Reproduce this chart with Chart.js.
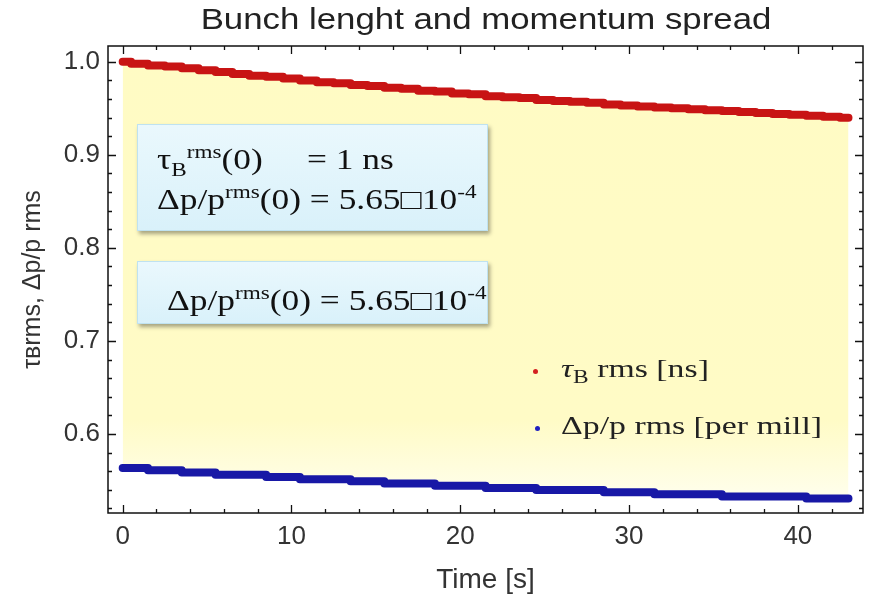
<!DOCTYPE html>
<html>
<head>
<meta charset="utf-8">
<script src="https://cdn.jsdelivr.net/npm/chart.js@4.4.1/dist/chart.umd.min.js"></script>
<style>
  html, body { margin: 0; padding: 0; background: #fff; }
  #wrap { position: relative; width: 869px; height: 600px; }
  canvas { position: absolute; left: 0; top: 0; }
  .box {
    position: absolute;
    background: linear-gradient(#eaf8fd, #d9f1fa);
    border: 1px solid #bfe2f0;
    box-shadow: 2px 3px 4px rgba(0,0,0,0.35);
    font-family: "Liberation Serif", "Times New Roman", serif;
    font-size: 29px;
    color: #111;
    line-height: 34px;
    white-space: nowrap;
  }
  .box div { transform: scaleX(1.22); transform-origin: 0 50%; }
  .leg { transform: scaleX(1.3); transform-origin: 0 50%; }
  .box sup { font-size: 19px; vertical-align: 11px; line-height: 0; }
  .box sub { font-size: 19px; vertical-align: -7px; line-height: 0; }
  .leg {
    position: absolute;
    font-family: "Liberation Serif", "Times New Roman", serif;
    font-size: 26px;
    line-height: 30px;
    color: #222;
    white-space: nowrap;
  }
  .leg sub { font-size: 18px; vertical-align: -6px; line-height: 0; }
  .dot { position: absolute; width: 5px; height: 5px; border-radius: 50%; }
</style>
</head>
<body>
<div id="wrap">
  <canvas id="bunchChart" width="869" height="600"></canvas>

  <div class="box" style="left:137px; top:124px; width:349px; height:105px;">
    <div style="position:absolute; left:19px; top:17px;">τ<sub>B</sub><sup>rms</sup>(0)</div>
    <div style="position:absolute; left:169px; top:17px;">= 1 ns</div>
    <div style="position:absolute; left:19px; top:57px;">Δp/p<sup>rms</sup>(0) = 5.65□10<sup>-4</sup></div>
  </div>

  <div class="box" style="left:137px; top:261px; width:349px; height:61px;">
    <div style="position:absolute; left:29px; top:21px;">Δp/p<sup>rms</sup>(0) = 5.65□10<sup>-4</sup></div>
  </div>

  <div class="dot" style="left:533px; top:369px; background:#d42020;"></div>
  <div class="leg" style="left:561px; top:354px;"><i>τ</i><sub>B</sub> rms [ns]</div>
  <div class="dot" style="left:535px; top:426px; background:#2020c0;"></div>
  <div class="leg" style="left:561px; top:411px;">Δp/p rms [per mill]</div>
</div>

<script>
// данные
const times = [0, 1, 2, 3, 4, 5, 6, 7, 8, 9, 10, 11, 12, 13, 14, 15, 16, 17, 18, 19, 20, 21,
  22, 23, 24, 25, 26, 27, 28, 29, 30, 31, 32, 33, 34, 35, 36, 37, 38, 39, 40, 41, 42, 43];

// τB rms [ns]
const bunchLength = [1.000, 0.998, 0.996, 0.995, 0.993, 0.991, 0.989, 0.987, 0.985, 0.984,
  0.982, 0.980, 0.978, 0.977, 0.975, 0.974, 0.972, 0.971, 0.969, 0.968, 0.966, 0.965,
  0.963, 0.962, 0.961, 0.959, 0.958, 0.957, 0.956, 0.954, 0.953, 0.952, 0.951, 0.950,
  0.949, 0.948, 0.947, 0.946, 0.945, 0.944, 0.943, 0.942, 0.941, 0.940];

// Δp/p rms [per mill]
const momentumSpread = [0.5635, 0.5635, 0.5610, 0.5610, 0.5585, 0.5585, 0.5560, 0.5560,
  0.5560, 0.5537, 0.5537, 0.5513, 0.5513, 0.5513, 0.5490, 0.5490, 0.5466, 0.5466, 0.5466,
  0.5443, 0.5443, 0.5443, 0.5420, 0.5420, 0.5420, 0.5397, 0.5397, 0.5397, 0.5397, 0.5374,
  0.5374, 0.5374, 0.5351, 0.5351, 0.5351, 0.5351, 0.5328, 0.5328, 0.5328, 0.5328, 0.5328,
  0.5305, 0.5305, 0.5305];

const xTicks = [0, 10, 20, 30, 40];
const yTicks = [0.6, 0.7, 0.8, 0.9, 1.0];

const titleText = 'Bunch lenght and momentum spread';
const font = "'Liberation Sans', Arial, sans-serif";

// заголовок рисуем сами, чуть растянутым по горизонтали
const titlePlugin = {
  id: 'stretchedTitle',
  afterDraw(chart) {
    const { ctx } = chart;
    ctx.save();
    ctx.font = '29px ' + font;
    ctx.fillStyle = '#222';
    ctx.textAlign = 'center';
    ctx.textBaseline = 'middle';
    ctx.translate(486, 21);
    ctx.scale(1.2, 1);
    ctx.fillText(titleText, 0, 0);
    ctx.restore();
  }
};

// рамка с засечками внутрь, как в Mathematica
const framePlugin = {
  id: 'frame',
  afterDatasetsDraw(chart) {
    const { ctx, chartArea: a, scales: { x, y } } = chart;
    ctx.save();
    ctx.strokeStyle = '#111';
    ctx.lineWidth = 1.5;
    ctx.strokeRect(a.left, a.top, a.right - a.left, a.bottom - a.top);
    ctx.lineWidth = 1.3;
    ctx.beginPath();
    for (let v = 0; v <= 42; v += 2) {
      const px = Math.round(x.getPixelForValue(v)) + 0.5;
      const len = v % 10 === 0 ? 8 : 4;
      ctx.moveTo(px, a.bottom); ctx.lineTo(px, a.bottom - len);
      ctx.moveTo(px, a.top); ctx.lineTo(px, a.top + len);
    }
    for (let i = 26; i <= 50; i++) {
      const py = Math.round(y.getPixelForValue(i / 50)) + 0.5;
      const len = i % 5 === 0 ? 8 : 4;
      ctx.moveTo(a.left, py); ctx.lineTo(a.left + len, py);
      ctx.moveTo(a.right, py); ctx.lineTo(a.right - len, py);
    }
    ctx.stroke();
    ctx.restore();
  }
};

// жёлтая заливка, бледнеющая к нижней кривой
function fillGradient(context) {
  const { chart } = context;
  const a = chart.chartArea;
  if (!a) return 'rgba(255,251,196,1)';
  const g = chart.ctx.createLinearGradient(0, a.top, 0, a.bottom);
  g.addColorStop(0, 'rgb(255,251,196)');
  g.addColorStop(0.8, 'rgb(255,251,198)');
  g.addColorStop(0.9, 'rgb(255,253,220)');
  g.addColorStop(1, 'rgb(255,255,245)');
  return g;
}

const ctx = document.getElementById('bunchChart').getContext('2d');

new Chart(ctx, {
  type: 'line',
  data: {
    datasets: [
      {
        label: 'τB rms [ns]',
        data: times.map((t, i) => ({ x: t, y: bunchLength[i] })),
        borderColor: '#c81414',
        backgroundColor: fillGradient,
        borderWidth: 8,
        borderCapStyle: 'round',
        borderJoinStyle: 'round',
        stepped: 'middle',
        pointRadius: 0,
        fill: '+1'
      },
      {
        label: 'Δp/p rms [per mill]',
        data: times.map((t, i) => ({ x: t, y: momentumSpread[i] })),
        borderColor: '#1818a6',
        borderWidth: 8,
        borderCapStyle: 'round',
        borderJoinStyle: 'round',
        stepped: 'middle',
        pointRadius: 0,
        fill: false
      }
    ]
  },
  options: {
    responsive: false,
    animation: false,
    layout: { padding: { left: 0, right: 6, top: 46, bottom: 0 } },
    plugins: {
      legend: { display: false },
      tooltip: { enabled: false },
      title: { display: false },
      filler: { drawTime: 'beforeDatasetsDraw' }
    },
    scales: {
      x: {
        type: 'linear',
        min: -0.87,
        max: 43.86,
        afterBuildTicks: s => { s.ticks = xTicks.map(v => ({ value: v })); },
        afterFit: s => { s.height = 87; },
        grid: { display: false, drawTicks: false },
        border: { display: false },
        ticks: { color: '#333', font: { family: font, size: 26 }, padding: 8, maxRotation: 0 },
        title: {
          display: true,
          text: 'Time [s]',
          color: '#333',
          font: { family: font, size: 28 },
          padding: { top: 0, bottom: 3 }
        }
      },
      y: {
        min: 0.515,
        max: 1.017,
        afterBuildTicks: s => { s.ticks = yTicks.map(v => ({ value: v })); },
        afterFit: s => { s.width = 108; },
        grid: { display: false, drawTicks: false },
        border: { display: false },
        ticks: {
          color: '#333',
          font: { family: font, size: 26 },
          padding: 8,
          callback: v => v.toFixed(1)
        },
        title: {
          display: true,
          text: 'τʙrms, Δp/p rms',
          color: '#333',
          font: { family: font, size: 25 },
          padding: { top: 18, bottom: 0 }
        }
      }
    }
  },
  plugins: [framePlugin, titlePlugin]
});
</script>
</body>
</html>
